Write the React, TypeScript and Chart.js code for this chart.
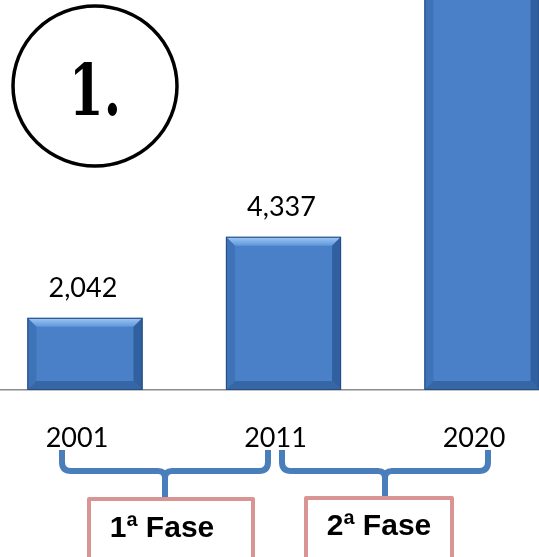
import React, { useEffect, useRef } from "react";
import { Chart, registerables } from "chart.js";

Chart.register(...registerables);

const categories = ["2001", "2011", "2020"];
const values = [2042, 4337, 13500];
const phaseLabels = ["1ª Fase", "2ª Fase"];
const badgeText = "1.";

const FONT_LABEL = "Lato, 'Liberation Sans', sans-serif";

const bevelPlugin = {
  id: "bevel",
  afterDatasetsDraw(chart: any) {
    const ctx = chart.ctx;
    const area = chart.chartArea;
    const meta = chart.getDatasetMeta(0);
    ctx.save();
    ctx.beginPath();
    ctx.rect(area.left, area.top, area.right - area.left, area.bottom - area.top);
    ctx.clip();
    meta.data.forEach((el: any) => {
      const p = el.getProps(["x", "y", "base", "width"], true);
      const l = p.x - p.width / 2;
      const r = p.x + p.width / 2;
      const t = p.y;
      const b = p.base;
      const d = 9;
      const gTop = ctx.createLinearGradient(0, t, 0, t + d);
      gTop.addColorStop(0, "#a2c8f4");
      gTop.addColorStop(1, "#5e97dc");
      ctx.fillStyle = gTop;
      ctx.beginPath();
      ctx.moveTo(l, t);
      ctx.lineTo(r, t);
      ctx.lineTo(r - d, t + d);
      ctx.lineTo(l + d, t + d);
      ctx.closePath();
      ctx.fill();
      ctx.fillStyle = "#3f73b8";
      ctx.beginPath();
      ctx.moveTo(l, t);
      ctx.lineTo(l + d, t + d);
      ctx.lineTo(l + d, b - d);
      ctx.lineTo(l, b);
      ctx.closePath();
      ctx.fill();
      ctx.fillStyle = "#30609f";
      ctx.beginPath();
      ctx.moveTo(r, t);
      ctx.lineTo(r - d, t + d);
      ctx.lineTo(r - d, b - d);
      ctx.lineTo(r, b);
      ctx.closePath();
      ctx.fill();
      ctx.fillStyle = "#3566a6";
      ctx.beginPath();
      ctx.moveTo(l, b);
      ctx.lineTo(l + d, b - d);
      ctx.lineTo(r - d, b - d);
      ctx.lineTo(r, b);
      ctx.closePath();
      ctx.fill();
      ctx.strokeStyle = "#274c7e";
      ctx.lineWidth = 1;
      ctx.strokeRect(l + 0.5, t + 0.5, p.width - 1, b - t - 1);
    });
    ctx.restore();
    ctx.save();
    ctx.fillStyle = "#000";
    ctx.font = `27px ${FONT_LABEL}`;
    ctx.textAlign = "center";
    ctx.textBaseline = "bottom";
    meta.data.forEach((el: any, i: number) => {
      const p = el.getProps(["x", "y"], true);
      const ty = p.y - 16;
      if (ty - 24 < area.top) return;
      ctx.fillText(values[i].toLocaleString("en-US"), p.x - 2, ty);
    });
    ctx.restore();
  },
};

const decorPlugin = {
  id: "decor",
  afterDraw(chart: any) {
    const ctx = chart.ctx;
    ctx.save();
    ctx.strokeStyle = "#000";
    ctx.lineWidth = 3.5;
    ctx.beginPath();
    ctx.ellipse(95, 86, 82, 80, 0, 0, Math.PI * 2);
    ctx.stroke();
    ctx.fillStyle = "#000";
    ctx.font = "bold 71px 'DejaVu Serif', 'Liberation Serif', serif";
    ctx.textAlign = "center";
    ctx.textBaseline = "alphabetic";
    ctx.save();
    ctx.translate(95, 115);
    ctx.scale(0.7, 1);
    ctx.fillText(badgeText, 0, 0);
    ctx.restore();

    const brackets = [
      { l: 62, r: 268, s: 165 },
      { l: 282, r: 488, s: 385 },
    ];
    ctx.strokeStyle = "#4a7ebb";
    ctx.lineWidth = 6;
    ctx.lineCap = "butt";
    ctx.lineJoin = "round";
    const yT = 450, yH = 471, yB = 498;
    brackets.forEach(({ l, r, s }) => {
      ctx.beginPath();
      ctx.moveTo(l, yT);
      ctx.lineTo(l, yH - 9);
      ctx.quadraticCurveTo(l, yH, l + 9, yH);
      ctx.lineTo(s - 7, yH);
      ctx.quadraticCurveTo(s, yH, s, yH + 7);
      ctx.lineTo(s, yB);
      ctx.stroke();
      ctx.beginPath();
      ctx.moveTo(s, yH + 7);
      ctx.quadraticCurveTo(s, yH, s + 7, yH);
      ctx.lineTo(r - 9, yH);
      ctx.quadraticCurveTo(r, yH, r, yH - 9);
      ctx.lineTo(r, yT);
      ctx.stroke();
    });

    const boxes = [
      { l: 89, r: 253, t: 499, cx: 162, cy: 529 },
      { l: 306, r: 452, t: 498, cx: 379, cy: 527 },
    ];
    boxes.forEach((bx, i) => {
      ctx.fillStyle = "#fff";
      ctx.fillRect(bx.l, bx.t, bx.r - bx.l, 70);
      ctx.strokeStyle = "#d99594";
      ctx.lineWidth = 4;
      ctx.strokeRect(bx.l, bx.t, bx.r - bx.l, 70);
      ctx.fillStyle = "#000";
      ctx.font = "bold 30px 'Liberation Sans', Arial, sans-serif";
      ctx.textAlign = "center";
      ctx.textBaseline = "middle";
      ctx.fillText(phaseLabels[i], bx.cx, bx.cy);
    });
    ctx.restore();
  },
};

export default function App() {
  const ref = useRef<HTMLCanvasElement | null>(null);
  useEffect(() => {
    document.body.style.margin = "0";
    document.body.style.background = "#fff";
    if (!ref.current) return;
    const chart = new Chart(ref.current, {
      type: "bar",
      data: {
        datasets: [
          {
            data: values.map((v, i) => ({ x: i, y: v })),
            backgroundColor: "#4a80c8",
            borderWidth: 0,
            barPercentage: 0.58,
            categoryPercentage: 1,
          },
        ],
      },
      options: {
        responsive: false,
        animation: false,
        layout: { padding: 0 },
        plugins: { legend: { display: false }, tooltip: { enabled: false } },
        scales: {
          x: {
            type: "linear",
            offset: false,
            min: -0.428,
            max: 2.287,
            grid: { display: false, drawTicks: false, offset: false },
            border: { display: true, color: "#8c8c8c", width: 1.5 },
            afterBuildTicks: (scale: any) => {
              scale.ticks = categories.map((_, i) => ({ value: i }));
            },
            afterFit: (scale: any) => {
              scale.height = 167;
              scale.paddingLeft = 0;
              scale.paddingRight = 0;
            },
            ticks: {
              autoSkip: false,
              maxRotation: 0,
              padding: 32,
              labelOffset: -8,
              color: "#000",
              font: { size: 27, family: FONT_LABEL },
              callback: (v: any) => categories[Math.round(Number(v))] ?? "",
            },
          },
          y: {
            display: false,
            min: 0,
            max: 11040,
          },
        },
      },
      plugins: [bevelPlugin, decorPlugin],
    });
    return () => chart.destroy();
  }, []);
  return (
    <div style={{ position: "absolute", left: 0, top: 0, width: 539, height: 557, background: "#fff" }}>
      <canvas ref={ref} width={539} height={557} />
    </div>
  );
}
